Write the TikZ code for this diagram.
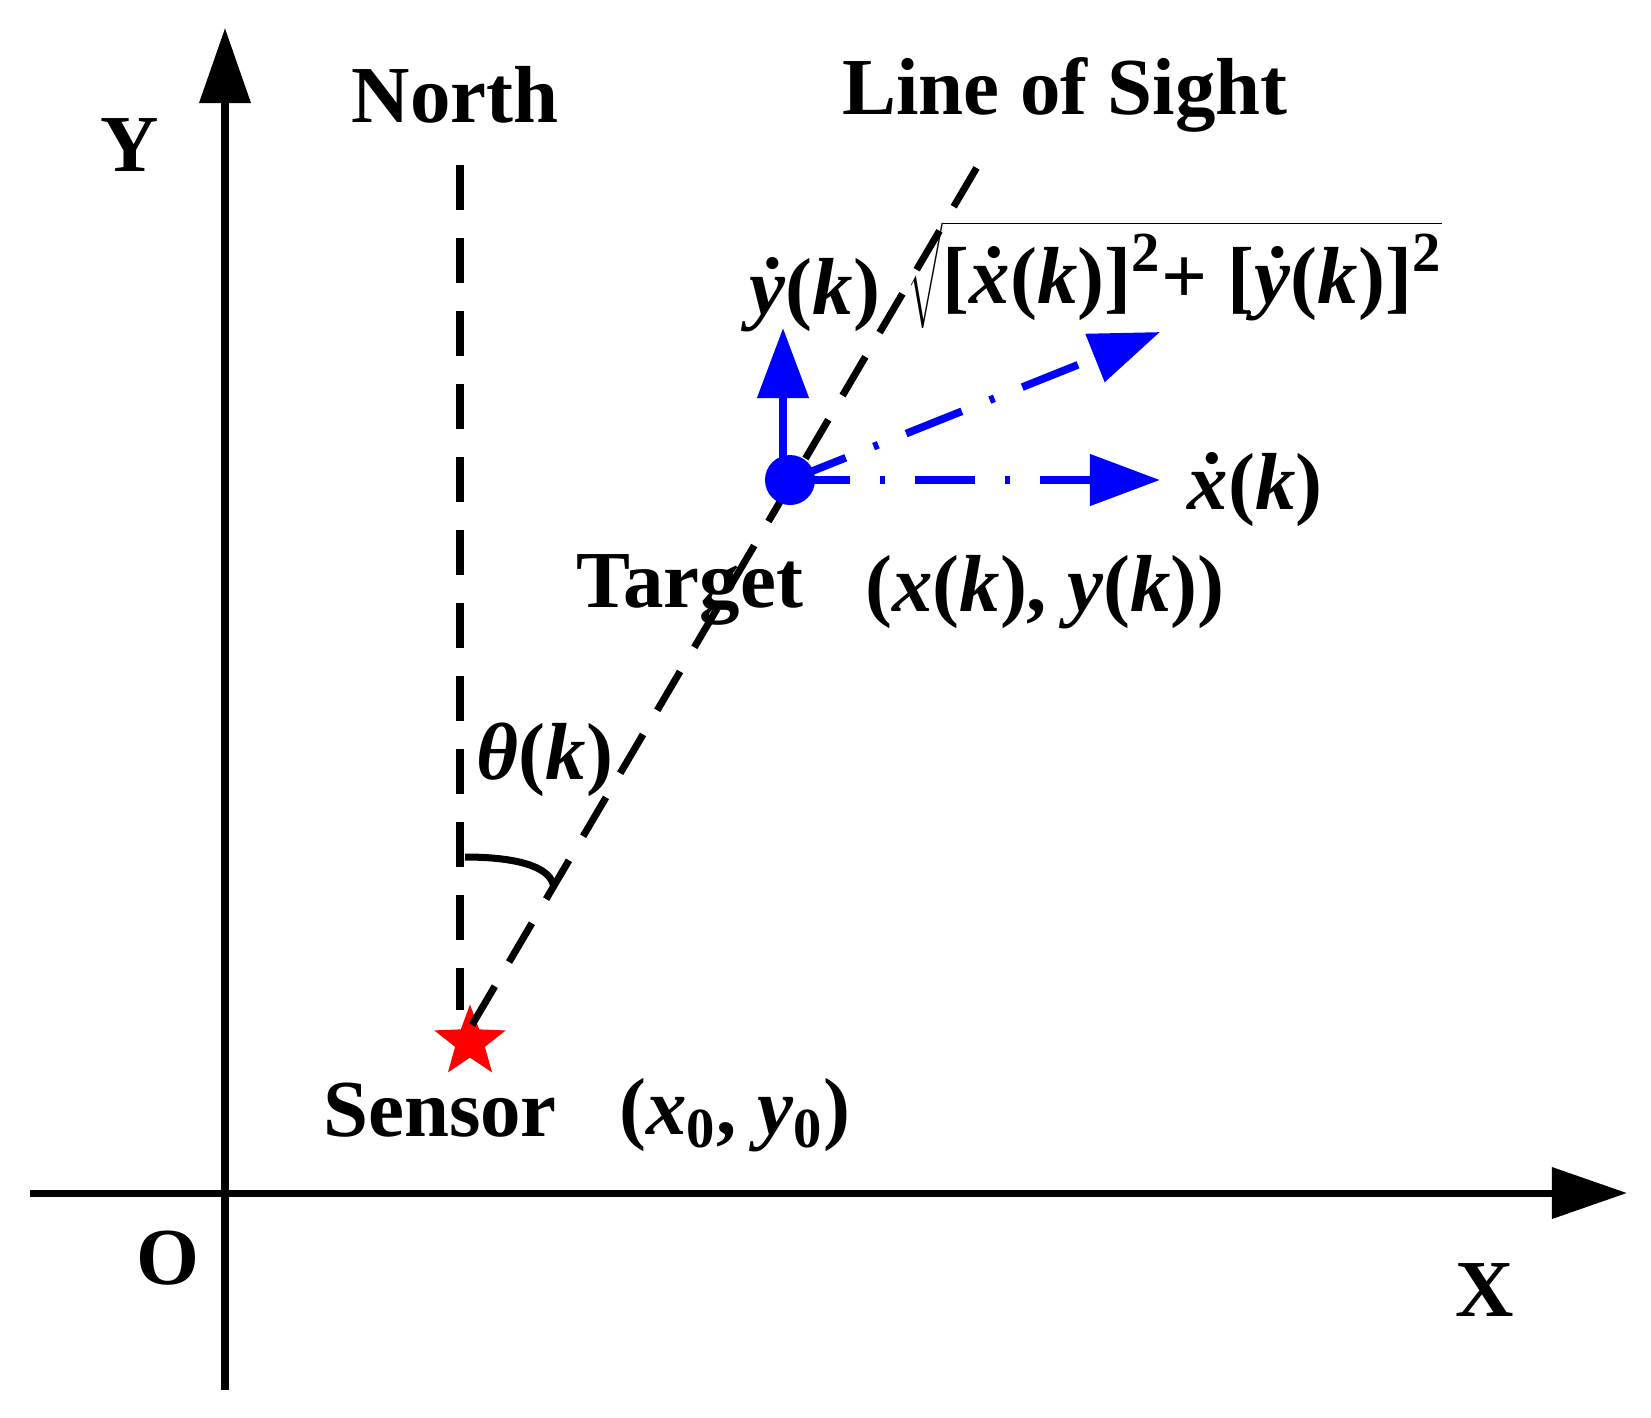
\documentclass[tikz,border=0pt]{standalone}
\usepackage{fontspec}
\setmainfont{Liberation Serif}
\usetikzlibrary{arrows.meta,shapes.geometric}
\newcommand{\bv}[1]{\textbf{\textit{#1}}}
\begin{document}
\begin{tikzpicture}[x=0.01cm,y=-0.01cm,
  lbl/.style={font=\bfseries\fontsize{23}{26}\selectfont, inner sep=0},
  axis/.style={line width=2pt,-{Triangle[length=0.75cm,width=0.5cm]}},
  blk/.style={line width=2pt,dash pattern=on 0.45cm off 0.28cm},
  vel/.style={blue,line width=2.2pt,dash pattern=on 0.6cm off 0.3cm on 0.05cm off 0.3cm,-{Triangle[length=0.7cm,width=0.5cm]}}]
\useasboundingbox (0,0) rectangle (1651,1417);
\coordinate (ybot) at (225,1390); \coordinate (ytop) at (225,28);
\coordinate (xl) at (30,1193); \coordinate (xr) at (1627,1193);
\draw[axis] (ybot) -- (ytop);
\draw[axis] (xl) -- (xr);
\node[lbl] (Y) at (130,145) {Y};
\node[lbl] (O) at (168,1258) {O};
\node[lbl] (X) at (1485,1290) {X};
\node[lbl] (N) at (455,95) {North};
\node[lbl] (L) at (1065,95) {Line of Sight};
\coordinate (nt) at (460,165); \coordinate (nb) at (460,1010);
\draw[blk] (nt) -- (nb);
\node[star,star points=5,star point ratio=2.4,fill=red,minimum size=0.75cm,inner sep=0] (S) at (470,1042) {};
\coordinate (los0) at (472,1025); \coordinate (los1) at (990,145);
\draw[blk] (los0) -- (los1);
\coordinate (a0) at (465,857); \coordinate (a1) at (553,884);
\draw[line width=2pt] (a0) .. controls (515,857) and (548,866) .. (a1);
\node[circle,fill=blue,minimum size=0.5cm,inner sep=0] (T) at (790,480) {};
\coordinate (up) at (783,328); \coordinate (rt) at (1160,480); \coordinate (dg) at (1160,332);
\draw[vel] (783,458) -- (up);
\draw[vel] (T.center) -- (rt);
\draw[vel] (T.center) -- (dg);
\node[lbl] (sen) at (440,1110) {Sensor};
\node[lbl] (sxy) at (735,1115) {(\bv{x}\textsubscript{0}, \bv{y}\textsubscript{0})};
\node[lbl] (tg) at (690,590) {Target};
\node[lbl] (txy) at (1045,592) {(\bv{x}(\bv{k}), \bv{y}(\bv{k}))};
\node[lbl] (th) at (545,760) {\bv{θ}(\bv{k})};
\node[lbl] (yd) at (815,295) {\bv{\.y}(\bv{k})};
\node[lbl] (xd) at (1255,490) {\bv{\.x}(\bv{k})};
\node[lbl] (sq) at (1175,275) {$\sqrt{\mbox{[\bv{\.x}(\bv{k})]\textsuperscript{2}+ [\bv{\.y}(\bv{k})]\textsuperscript{2}}}$};
\end{tikzpicture}
\end{document}
